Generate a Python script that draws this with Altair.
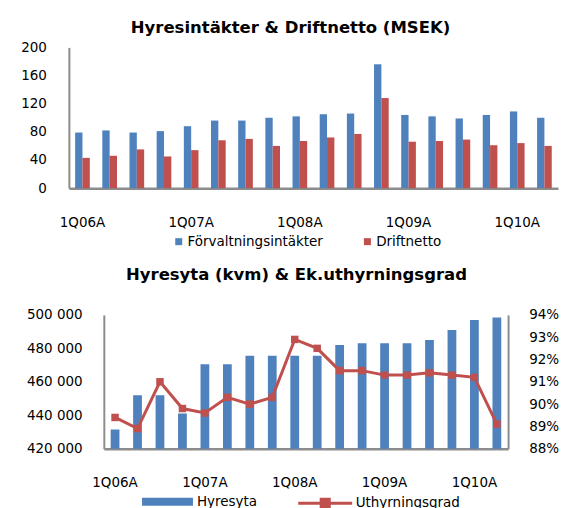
import altair as alt
import pandas as pd

quarters = ["1Q06A", "2Q06A", "3Q06A", "4Q06A", "1Q07A", "2Q07A", "3Q07A", "4Q07A",
            "1Q08A", "2Q08A", "3Q08A", "4Q08A", "1Q09A", "2Q09A", "3Q09A", "4Q09A",
            "1Q10A", "2Q10A"]
tick_quarters = ["1Q06A", "1Q07A", "1Q08A", "1Q09A", "1Q10A"]

series_top = ["Förvaltningsintäkter", "Driftnetto"]
colors_top = ["#4F81BD", "#C0504D"]
forvaltning = [79, 82, 79, 81, 88, 96, 96, 100, 102, 105, 106, 176, 104, 102, 99, 104, 109, 100]
driftnetto = [43, 46, 55, 45, 54, 68, 70, 60, 67, 72, 77, 128, 66, 67, 69, 61, 64, 60]

hyresyta = [431500, 452000, 452000, 441000, 470500, 470500, 475500, 475500, 475500,
            475500, 482000, 483000, 483000, 483000, 485000, 491000, 497000, 498500]
uthyrningsgrad = [89.4, 88.9, 91.0, 89.8, 89.6, 90.3, 90.0, 90.3, 92.9, 92.5,
                  91.5, 91.5, 91.3, 91.3, 91.4, 91.3, 91.2, 89.1]

FONT = "DejaVu Sans"
AX = "#8C8C8C"
FS = 13.5

df_top = pd.DataFrame({
    "kvartal": quarters * 2,
    "serie": [series_top[0]] * len(quarters) + [series_top[1]] * len(quarters),
    "msek": forvaltning + driftnetto,
})
df_bot = pd.DataFrame({
    "kvartal": quarters,
    "hyresyta": hyresyta,
    "grad": uthyrningsgrad,
    "s1": ["Hyresyta"] * len(quarters),
    "s2": ["Uthyrningsgrad"] * len(quarters),
})

# ---------------- top panel ----------------
top = alt.Chart(df_top).mark_bar().encode(
    x=alt.X("kvartal:N", sort=quarters, title=None,
            scale=alt.Scale(paddingInner=0.46, paddingOuter=0.23),
            axis=alt.Axis(values=tick_quarters, labelAngle=0, ticks=False,
                          domainColor=AX, domainWidth=2.5, labelPadding=27,
                          labelFontSize=FS, labelFont=FONT, labelColor="#000")),
    xOffset=alt.XOffset("serie:N", sort=series_top),
    y=alt.Y("msek:Q", title=None, scale=alt.Scale(domain=[0, 200]),
            axis=alt.Axis(values=[0, 40, 80, 120, 160, 200], grid=False, ticks=False,
                          domainColor=AX, domainWidth=2, labelPadding=22.5,
                          labelFontSize=FS, labelFont=FONT, labelColor="#000")),
    color=alt.Color("serie:N", sort=series_top,
                    scale=alt.Scale(domain=series_top, range=colors_top),
                    legend=alt.Legend(title=None, orient="none", legendX=103.3, legendY=187.5,
                                      direction="horizontal", symbolType="square",
                                      symbolSize=49, symbolStrokeWidth=0, labelOffset=2,
                                      columnPadding=37, padding=0,
                                      labelFontSize=FS, labelFont=FONT, labelColor="#000")),
).properties(
    width=490, height=141,
    title=alt.TitleParams("Hyresintäkter & Driftnetto (MSEK)", fontSize=16.5, font=FONT,
                          fontWeight="bold", anchor="middle", frame="group", dx=-23,
                          offset=4, color="#000"),
)

# ---------------- bottom panel ----------------
x_bot = alt.X("kvartal:N", sort=quarters, title=None,
              scale=alt.Scale(range=[35, 440], paddingInner=0.61, paddingOuter=0.305),
              axis=alt.Axis(values=tick_quarters, labelAngle=0, ticks=False,
                            domainColor=AX, domainWidth=2.5, labelPadding=27,
                            labelFontSize=FS, labelFont=FONT, labelColor="#000"))

y_right = alt.Axis(orient="right", values=[88, 89, 90, 91, 92, 93, 94],
                   labelExpr="datum.value + '%'", grid=False, ticks=False,
                   domainColor=AX, domainWidth=2,
                   labelPadding=20.6, labelFontSize=FS, labelFont=FONT, labelColor="#000")

bars = alt.Chart(df_bot).mark_bar(clip=True).encode(
    x=x_bot,
    y=alt.Y("hyresyta:Q", title=None, scale=alt.Scale(domain=[420000, 500000], zero=False),
            axis=alt.Axis(values=[420000, 440000, 460000, 480000, 500000],
                          labelExpr="replace(format(datum.value, ','), ',', ' ')",
                          grid=False, ticks=False, offset=-35, domainColor=AX, domainWidth=2,
                          labelPadding=21.7, labelFontSize=FS, labelFont=FONT,
                          labelColor="#000")),
    fill=alt.Fill("s1:N", scale=alt.Scale(domain=["Hyresyta"], range=["#4F81BD"]),
                  legend=alt.Legend(title=None, orient="none", legendX=73.3, legendY=429.8,
                                    symbolType="M-1,-0.157H1V0.157H-1Z", symbolSize=2601,
                                    symbolStrokeWidth=0, labelOffset=4, padding=0,
                                    labelFontSize=FS, labelFont=FONT, labelColor="#000")),
)

line = alt.Chart(df_bot).mark_line(strokeWidth=3).encode(
    x=x_bot,
    y=alt.Y("grad:Q", title=None, scale=alt.Scale(domain=[88, 94], zero=False), axis=y_right),
    stroke=alt.Stroke("s2:N", scale=alt.Scale(domain=["Uthyrningsgrad"], range=["#C0504D"]),
                      legend=alt.Legend(title=None, orient="none", legendX=228.3, legendY=428.3,
                                        symbolType="M-1,0H1M-0.15,-0.15H0.15V0.15H-0.15Z",
                                        symbolSize=2916, symbolStrokeWidth=3,
                                        symbolFillColor="#C0504D", labelOffset=2, padding=0,
                                        labelFontSize=FS, labelFont=FONT, labelColor="#000")),
)

points = alt.Chart(df_bot).mark_square(size=56, color="#C0504D", opacity=1).encode(
    x=x_bot,
    y=alt.Y("grad:Q", title=None, scale=alt.Scale(domain=[88, 94], zero=False), axis=y_right),
)

bottom = alt.layer(bars, alt.layer(line, points)).resolve_scale(y="independent").properties(
    width=440, height=134,
    title=alt.TitleParams("Hyresyta (kvm) & Ek.uthyrningsgrad", fontSize=16.5, font=FONT,
                          fontWeight="bold", anchor="middle", frame="group", dx=8,
                          offset=24, color="#000"),
)

chart = alt.vconcat(top, bottom, spacing=38).properties(
    padding={"left": 12, "top": 11, "right": 0, "bottom": 0},
    background="white",
).configure_view(stroke=None)

chart.save("out.html", embed_options={"renderer": "svg", "actions": False})
